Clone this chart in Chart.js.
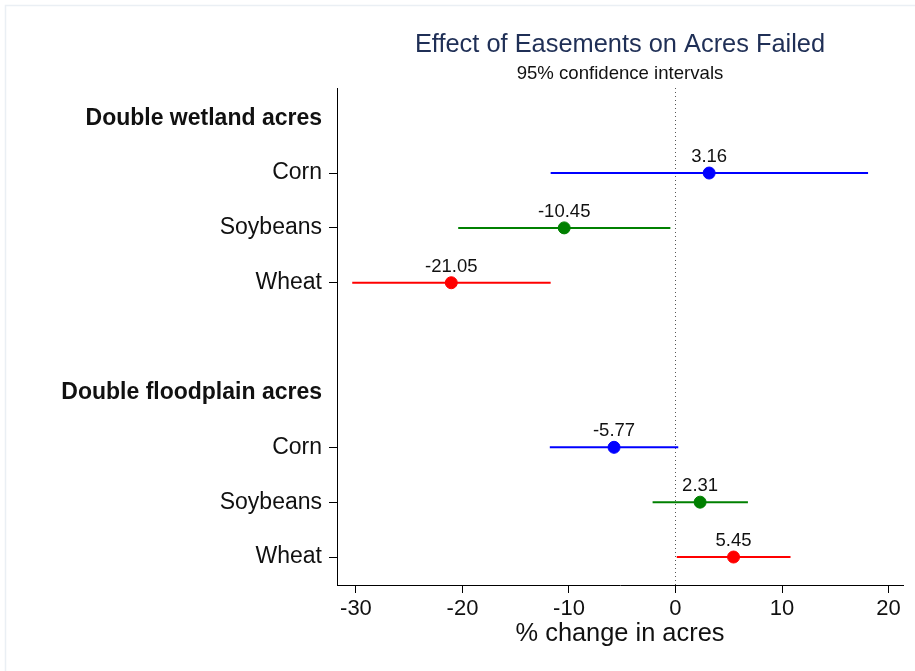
<!DOCTYPE html>
<html>
<head>
<meta charset="utf-8">
<script src="https://cdn.jsdelivr.net/npm/chart.js@4.4.1/dist/chart.umd.min.js"></script>
<style>
html,body{margin:0;padding:0;background:#fff;}
#wrap{width:915px;height:671px;position:relative;}
</style>
</head>
<body>
<div id="wrap"><canvas id="c" width="915" height="671"></canvas></div>
<script>
// ---- data ----
const rowLabels = ['Double wetland acres', 'Corn', 'Soybeans', 'Wheat', '', 'Double floodplain acres', 'Corn', 'Soybeans', 'Wheat'];
const headerRows = [0, 5];
const estimateRows = [1, 2, 3, 6, 7, 8];
const crops = ['Corn', 'Soybeans', 'Wheat', 'Corn', 'Soybeans', 'Wheat'];
const estimates = [3.16, -10.45, -21.05, -5.77, 2.31, 5.45];
const lowerCI = [-11.72, -20.40, -30.35, -11.80, -2.15, 0.12];
const upperCI = [18.08, -0.48, -11.72, 0.26, 6.80, 10.80];
const xTicks = [-30, -20, -10, 0, 10, 20];
const cropColors = {Corn: '#0000ff', Soybeans: '#008000', Wheat: '#ff0000'};

const FONT = "'Liberation Sans', Arial, sans-serif";

const datasets = [];
estimateRows.forEach((r, i) => {
  datasets.push({
    type: 'line',
    data: [{x: lowerCI[i], y: r}, {x: upperCI[i], y: r}],
    borderColor: cropColors[crops[i]],
    borderWidth: 2,
    pointRadius: 0,
    fill: false
  });
});
datasets.push({
  type: 'scatter',
  data: estimateRows.map((r, i) => ({x: estimates[i], y: r})),
  backgroundColor: crops.map(c => cropColors[c]),
  borderColor: crops.map(c => cropColors[c]),
  pointRadius: 6,
  pointHoverRadius: 6,
  isPoints: true
});

const refLine = {
  id: 'refLine',
  beforeDatasetsDraw(chart) {
    const {ctx, chartArea} = chart;
    const x = Math.round(chart.scales.x.getPixelForValue(0)) + 0.5;
    ctx.save();
    ctx.strokeStyle = '#555';
    ctx.lineWidth = 1;
    ctx.setLineDash([1, 3]);
    ctx.beginPath();
    ctx.moveTo(x, chartArea.top);
    ctx.lineTo(x, chartArea.bottom);
    ctx.stroke();
    ctx.restore();
  }
};

const valueLabels = {
  id: 'valueLabels',
  afterDatasetsDraw(chart) {
    const {ctx} = chart;
    chart.data.datasets.forEach((ds, di) => {
      if (!ds.isPoints) return;
      const meta = chart.getDatasetMeta(di);
      ctx.save();
      ctx.font = '18.5px ' + FONT;
      ctx.fillStyle = '#111';
      ctx.textAlign = 'center';
      ctx.textBaseline = 'middle';
      meta.data.forEach((el, i) => {
        ctx.fillText(estimates[i].toFixed(2), el.x, el.y - 16);
      });
      ctx.restore();
    });
  }
};

const frame = {
  id: 'frame',
  beforeDraw(chart) {
    const {ctx} = chart;
    ctx.save();
    ctx.strokeStyle = '#eaeff4';
    ctx.lineWidth = 1.5;
    ctx.beginPath();
    ctx.moveTo(5.5, 671);
    ctx.lineTo(5.5, 5.5);
    ctx.lineTo(915, 5.5);
    ctx.stroke();
    ctx.restore();
  }
};

const isBlankRow = (v) => headerRows.includes(v) || rowLabels[v] === '';

new Chart(document.getElementById('c'), {
  data: {datasets},
  plugins: [frame, refLine, valueLabels],
  options: {
    responsive: false,
    animation: false,
    events: [],
    layout: {padding: {left: 0, right: 12, top: 0, bottom: 0}},
    plugins: {
      legend: {display: false},
      tooltip: {enabled: false},
      title: {
        display: true,
        fullSize: false,
        text: 'Effect of Easements on Acres Failed',
        color: '#1f2f56',
        font: {family: FONT, size: 25.4, weight: 'normal', lineHeight: 1.2},
        padding: {top: 29.75, bottom: 0},
        align: 'center'
      },
      subtitle: {
        display: true,
        fullSize: false,
        text: '95% confidence intervals',
        color: '#111',
        font: {family: FONT, size: 18.6, weight: 'normal', lineHeight: 1.2},
        padding: {top: 2.6, bottom: 2.85}
      }
    },
    scales: {
      x: {
        type: 'linear',
        position: 'bottom',
        min: -31.78,
        max: 21.36,
        afterBuildTicks(scale) { scale.ticks = xTicks.map(v => ({value: v})); },
        afterFit(scale) { scale.height = 86; },
        grid: {display: true, drawOnChartArea: false, drawTicks: true, tickLength: 8, color: '#000', tickColor: '#000', tickWidth: 1},
        border: {display: true, color: '#000', width: 1},
        ticks: {color: '#111', font: {family: FONT, size: 22}, padding: 3, maxRotation: 0, autoSkip: false},
        title: {display: true, text: '% change in acres', color: '#111', font: {family: FONT, size: 25.4, lineHeight: 1.2}, padding: {top: 0, bottom: 21.8}}
      },
      y: {
        type: 'linear',
        position: 'left',
        reverse: true,
        min: -0.55,
        max: 8.51,
        afterBuildTicks(scale) { scale.ticks = rowLabels.map((l, i) => ({value: i})); },
        afterFit(scale) { scale.width = 337; },
        grid: {
          display: true, drawOnChartArea: false, drawTicks: true, tickLength: 8,
          color: (ctx) => (ctx.tick && isBlankRow(ctx.tick.value)) ? 'rgba(0,0,0,0)' : '#000',
          tickColor: (ctx) => (ctx.tick && isBlankRow(ctx.tick.value)) ? 'rgba(0,0,0,0)' : '#000',
          tickWidth: 1
        },
        border: {display: true, color: '#000', width: 1},
        ticks: {
          autoSkip: false,
          padding: 7,
          color: '#111',
          callback: (v) => rowLabels[v],
          font: (ctx) => ({family: FONT, size: 23, weight: (ctx.tick && headerRows.includes(ctx.tick.value)) ? 'bold' : 'normal'})
        }
      }
    }
  }
});
</script>
</body>
</html>
